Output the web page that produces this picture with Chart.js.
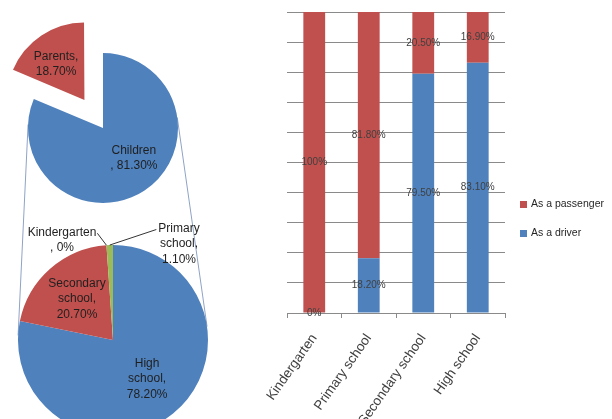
<!DOCTYPE html>
<html>
<head>
<meta charset="utf-8">
<script src="https://cdn.jsdelivr.net/npm/chart.js@4.4.1/dist/chart.umd.min.js"></script>
<style>
  html, body { margin: 0; padding: 0; background: #fff; }
  #page { position: relative; width: 612px; height: 419px; overflow: hidden; }
  canvas { position: absolute; }
  #links { left: 0; top: 0; }
  #mainPie { left: 0; top: 0; }
  #schoolPie { left: 0; top: 220px; }
  #bars { left: 250px; top: 0; }
  .legend { position: absolute; left: 520px; font: 10.5px "Liberation Sans", Arial, sans-serif; color: #262626; }
  .legend span { display: inline-block; width: 7px; height: 7px; margin-right: 4px; vertical-align: -0.5px; }
</style>
</head>
<body>
<div id="page">
  <canvas id="links" width="612" height="419"></canvas>
  <canvas id="mainPie" width="206" height="256"></canvas>
  <canvas id="schoolPie" width="226" height="240"></canvas>
  <canvas id="bars" width="262" height="419"></canvas>
  <div class="legend" style="top:197px"><span style="background:#C0504D"></span>As a passenger</div>
  <div class="legend" style="top:226px"><span style="background:#4F81BD"></span>As a driver</div>
</div>
<script>
// who travels: first pie
const mainLabels = ['Children', 'Parents'];
const mainValues = [81.3, 18.7];

// children split by school level: second pie
const schoolLabels = ['High school', 'Secondary school', 'Kindergarten', 'Primary school'];
const schoolValues = [78.2, 20.7, 0, 1.1];

// stacked bars
const barCategories = ['Kindergarten', 'Primary school', 'Secondary school', 'High school'];
const driverValues = [0, 18.2, 79.5, 83.1];
const passengerValues = [100, 81.8, 20.5, 16.9];

const BLUE = '#4F81BD', RED = '#C0504D', GREEN = '#9BBB59';
const GRID = '#8a8a8a';
const FONT = '"Liberation Sans", Arial, sans-serif';

// names that get the comma on the value line
const commaOnValueLine = ['Children', 'Kindergarten'];

function pct(v) {
    return Number.isInteger(v) ? v + '%' : v.toFixed(2) + '%';
}

function labelLines(name, v) {
    if (commaOnValueLine.includes(name)) return [name, ', ' + pct(v)];
    let words = name.split(' ');
    words[words.length - 1] += ',';
    return words.concat([pct(v)]);
}

// same shift that Chart.js applies to an offset arc
function arcShift(arc, off) {
    const circ = arc.endAngle - arc.startAngle;
    return off / 4 * (2 - Math.sin(Math.min(Math.PI, circ)));
}

// label placement: inside = fraction of radius + angle shift, outside = offset from center
const mainPlaces = [{r: 0.575, shift: -12}, {r: 0.575, shift: -5}];
const schoolPlaces = [{r: 0.545, shift: -2}, {r: 0.575, shift: 0}, {dx: -51, dy: -100}, {dx: 66, dy: -96}];

const pieLabels = {
    id: 'pieLabels',
    afterDatasetsDraw(chart, args, opts) {
        const ctx = chart.ctx;
        const ds = chart.data.datasets[0];
        const meta = chart.getDatasetMeta(0);
        ctx.save();
        ctx.font = '12px ' + FONT;
        ctx.fillStyle = '#1f1f1f';
        ctx.strokeStyle = '#333';
        ctx.lineWidth = 1;
        ctx.textAlign = 'center';
        ctx.textBaseline = 'middle';
        const lh = 15.5;
        meta.data.forEach((arc, i) => {
            const place = opts.places[i];
            const lines = labelLines(chart.data.labels[i], ds.data[i]);
            const mid = (arc.startAngle + arc.endAngle) / 2;
            const s = arcShift(arc, (ds.offset && ds.offset[i]) || 0);
            const cx = arc.x + Math.cos(mid) * s;
            const cy = arc.y + Math.sin(mid) * s;
            let tx, ty;
            if (place.dx === undefined) {
                const a = mid + place.shift * Math.PI / 180;
                tx = cx + Math.cos(a) * arc.outerRadius * place.r;
                ty = cy + Math.sin(a) * arc.outerRadius * place.r;
            } else {
                tx = cx + place.dx;
                ty = cy + place.dy;
                const firstY = ty - (lines.length - 1) / 2 * lh;
                const w = ctx.measureText(lines[0]).width;
                const sx = place.dx < 0 ? tx + w / 2 + 1 : tx - w / 2 - 2;
                ctx.beginPath();
                ctx.moveTo(sx, firstY + 1);
                ctx.lineTo(cx + Math.cos(mid) * arc.outerRadius, cy + Math.sin(mid) * arc.outerRadius);
                ctx.stroke();
            }
            lines.forEach((l, k) => ctx.fillText(l, tx, ty + (k - (lines.length - 1) / 2) * lh));
        });
        ctx.restore();
    }
};

function pieConfig(labels, values, colors, radius, offsets, places) {
    return {
        type: 'pie',
        data: {
            labels: labels,
            datasets: [{
                data: values,
                backgroundColor: colors,
                borderWidth: 0,
                offset: offsets,
                clip: false
            }]
        },
        options: {
            responsive: false,
            animation: false,
            radius: radius,
            events: [],
            plugins: {
                legend: {display: false},
                tooltip: {enabled: false},
                pieLabels: {places: places}
            }
        },
        plugins: [pieLabels]
    };
}

const mainEl = document.getElementById('mainPie');
const schoolEl = document.getElementById('schoolPie');
const mainChart = new Chart(mainEl, pieConfig(mainLabels, mainValues, [BLUE, RED], 75, [0, 134], mainPlaces));
const schoolChart = new Chart(schoolEl, pieConfig(schoolLabels, schoolValues, [BLUE, RED, GREEN, GREEN], 95, [0, 0, 0, 0], schoolPlaces));

// connector lines: outer tangents between the two pies
function drawLinks() {
    const a = mainChart.getDatasetMeta(0).data[0];
    const b = schoolChart.getDatasetMeta(0).data[0];
    const c1 = {x: a.x + mainEl.offsetLeft, y: a.y + mainEl.offsetTop, r: a.outerRadius};
    const c2 = {x: b.x + schoolEl.offsetLeft, y: b.y + schoolEl.offsetTop, r: b.outerRadius};
    const d = Math.hypot(c2.x - c1.x, c2.y - c1.y);
    const base = Math.atan2(c2.y - c1.y, c2.x - c1.x);
    const spread = Math.acos((c1.r - c2.r) / d);
    const ctx = document.getElementById('links').getContext('2d');
    ctx.strokeStyle = '#8FA3C6';
    ctx.lineWidth = 1;
    [base + spread, base - spread].forEach(t => {
        ctx.beginPath();
        ctx.moveTo(c1.x + Math.cos(t) * c1.r, c1.y + Math.sin(t) * c1.r);
        ctx.lineTo(c2.x + Math.cos(t) * c2.r, c2.y + Math.sin(t) * c2.r);
        ctx.stroke();
    });
}
drawLinks();

const barLabels = {
    id: 'barLabels',
    afterDatasetsDraw(chart) {
        const ctx = chart.ctx;
        ctx.save();
        ctx.font = '10px ' + FONT;
        ctx.fillStyle = '#404040';
        ctx.textAlign = 'center';
        ctx.textBaseline = 'middle';
        chart.data.datasets.forEach((ds, di) => {
            chart.getDatasetMeta(di).data.forEach((bar, i) => {
                ctx.fillText(pct(ds.data[i]), bar.x, (bar.y + bar.base) / 2);
            });
        });
        ctx.restore();
    }
};

new Chart(document.getElementById('bars'), {
    type: 'bar',
    data: {
        labels: barCategories,
        datasets: [
            {label: 'As a driver', data: driverValues, backgroundColor: BLUE, barPercentage: 0.4, categoryPercentage: 1},
            {label: 'As a passenger', data: passengerValues, backgroundColor: RED, barPercentage: 0.4, categoryPercentage: 1}
        ]
    },
    options: {
        responsive: false,
        animation: false,
        events: [],
        layout: {padding: {left: 37, right: 7, top: 12, bottom: 0}},
        plugins: {legend: {display: false}, tooltip: {enabled: false}},
        scales: {
            x: {
                stacked: true,
                grid: {drawOnChartArea: false, tickLength: 5, color: GRID},
                border: {color: GRID},
                ticks: {minRotation: 55, maxRotation: 55, color: '#404040', padding: 13, font: {size: 13.5, family: FONT}},
                afterFit(scale) { scale.height = 106; }
            },
            y: {
                stacked: true,
                min: 0,
                max: 100,
                ticks: {stepSize: 10, display: false},
                grid: {color: GRID, drawTicks: false},
                border: {display: false}
            }
        }
    },
    plugins: [barLabels]
});
</script>
</body>
</html>
